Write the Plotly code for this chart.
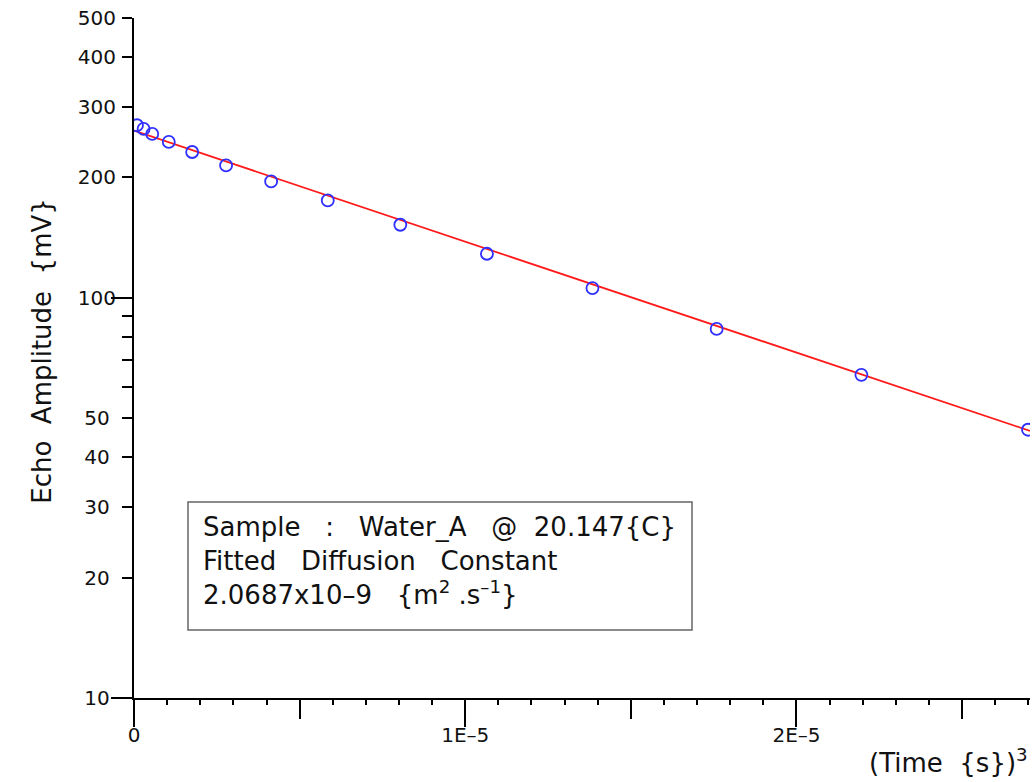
import math
import plotly.graph_objects as go

# ---- data ----
time_cubed = [0.9e-7, 2.9e-7, 5.5e-7, 1.05e-6, 1.756e-6, 2.78e-6, 4.14e-6,
              5.85e-6, 8.04e-6, 1.0655e-5, 1.384e-5, 1.759e-5, 2.196e-5, 2.699e-5]
echo_mv = [269.8, 264.1, 256.6, 245.1, 231.3, 214.1, 195.3,
           175.1, 152.2, 128.8, 105.7, 83.6, 64.2, 46.8]

fit_x = [0.0, 2.705e-5]
fit_y = [261.5, 46.5]

y_tickvals = [10, 20, 30, 40, 50, 100, 200, 300, 400, 500]
y_ticktext = ["10\u00a0", "20\u00a0", "30\u00a0", "40\u00a0", "50\u00a0",
              "100", "200", "300", "400", "500"]
y_minor = [60, 70, 80, 90]
y_decades = [10, 100]

x_tickvals = [0, 1e-5, 2e-5]
x_ticktext = ["0", "1E\u20135", "2E\u20135"]
x_halfticks = [5e-6, 1.5e-5, 2.5e-5]
x_minor_step = 1e-6

x_range = [0, 2.705e-5]
y_range = [1, math.log10(500)]

FONT = "DejaVu Sans"
INK = "#111111"

fig = go.Figure()
fig.add_trace(go.Scatter(x=fit_x, y=fit_y, mode="lines",
                         line=dict(color="#ff1a1a", width=1.8),
                         showlegend=False, hoverinfo="skip"))
fig.add_trace(go.Scatter(x=time_cubed, y=echo_mv, mode="markers",
                         marker=dict(symbol="circle-open", size=12,
                                     color="#2f2fff", line=dict(width=1.8)),
                         showlegend=False))
# empty helper trace so the overlaid tick-only axes are drawn
fig.add_trace(go.Scatter(x=[None], y=[None], xaxis="x2", yaxis="y2",
                         mode="markers", showlegend=False, hoverinfo="skip"))

axis_common = dict(showgrid=False, zeroline=False, ticks="outside",
                   tickcolor="black")

fig.update_layout(
    width=1034, height=782,
    margin=dict(l=134, r=4, t=18, b=84),
    paper_bgcolor="white", plot_bgcolor="white",
    font=dict(family=FONT, color=INK, size=20),
    xaxis=dict(range=x_range, tickmode="array", tickvals=x_tickvals,
               ticktext=x_ticktext, ticklen=27, tickwidth=2,
               showline=True, linecolor="black", linewidth=2,
               ticklabelstandoff=-9,
               tickfont=dict(size=20, family=FONT, color=INK),
               minor=dict(tickvals=x_halfticks, ticklen=19, tickwidth=2,
                          ticks="outside", tickcolor="black"),
               **axis_common),
    xaxis2=dict(range=x_range, overlaying="x", anchor="y", side="bottom",
                tick0=0, dtick=x_minor_step, ticklen=6, tickwidth=1.6,
                showticklabels=False, showline=False, **axis_common),
    yaxis=dict(type="log", range=y_range, tickmode="array",
               tickvals=y_tickvals, ticktext=y_ticktext, ticklen=10,
               tickwidth=2, showline=True, linecolor="black", linewidth=2,
               ticklabelstandoff=2,
               tickfont=dict(size=20, family=FONT, color=INK),
               minor=dict(tickvals=y_minor, ticklen=10, tickwidth=2,
                          ticks="outside", tickcolor="black"),
               **axis_common),
    yaxis2=dict(type="log", range=y_range, overlaying="y", anchor="x",
                side="left", tickmode="array", tickvals=y_decades,
                ticklen=22, tickwidth=2, showticklabels=False,
                showline=False, **axis_common),
)

# axis titles
fig.add_annotation(text="Echo\u00a0\u00a0Amplitude\u00a0\u00a0{mV}",
                   xref="paper", yref="paper", x=-0.121, y=0.51,
                   textangle=-90, showarrow=False,
                   font=dict(size=26, family=FONT, color=INK))
fig.add_annotation(text="(Time\u00a0\u00a0{s})<sup>3</sup>",
                   xref="paper", yref="paper", x=1.0, y=-0.121,
                   xanchor="right", yanchor="bottom", showarrow=False,
                   font=dict(size=26, family=FONT, color=INK))

# info box
box_lines = [
    "Sample\u00a0\u00a0\u00a0:\u00a0\u00a0\u00a0Water_A\u00a0\u00a0\u00a0@\u00a0\u00a020.147{C}",
    "Fitted\u00a0\u00a0\u00a0Diffusion\u00a0\u00a0\u00a0Constant",
    "2.0687x10\u20139\u00a0\u00a0\u00a0{m<sup>2</sup>\u00a0.s<sup>\u20131</sup>}",
]
fig.add_shape(type="rect", xref="paper", yref="paper",
              x0=(188 - 134) / 896, x1=(692 - 134) / 896,
              y0=(698 - 630) / 680, y1=(698 - 502) / 680,
              line=dict(color="#666666", width=1.5), fillcolor="white",
              layer="above")
fig.add_annotation(text="<br>".join(box_lines), xref="paper", yref="paper",
                   x=(201 - 134) / 896, y=(698 - 510) / 680,
                   xanchor="left", yanchor="top", align="left",
                   showarrow=False,
                   font=dict(size=26, family=FONT, color=INK))

fig.write_html("out.html")
